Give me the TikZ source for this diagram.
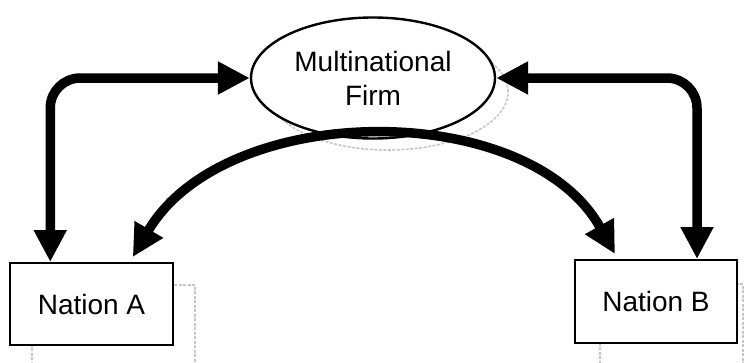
\documentclass[tikz,border=0pt]{standalone}
\usepackage{fontspec}
\setmainfont{Liberation Sans}
\usetikzlibrary{shapes.geometric,arrows.meta,calc}

\tikzset{
  lbl/.style={font=\fontsize{28}{34}\selectfont, align=center, inner sep=0pt},
  firmshape/.style={lbl, ellipse, draw, line width=2.4pt, fill=white,
    minimum width=244pt, minimum height=121pt},
  nationbox/.style={lbl, rectangle, draw, line width=2pt, fill=white,
    minimum width=163pt, minimum height=82pt},
  faint/.style={draw=gray!45, line width=1.6pt, dash pattern=on 3pt off 1.5pt},
  flow/.style={line width=9.5pt, rounded corners=30pt,
    {Triangle[length=32pt,width=31pt]}-{Triangle[length=32pt,width=31pt]}},
}

\begin{document}
\begin{tikzpicture}[x=1pt,y=-1pt]
\useasboundingbox (0,0) rectangle (748,362);

% faint drop shadows behind the shapes
\draw[faint] (388,92) ellipse [x radius=120pt, y radius=58pt];
\draw[faint] (32,285) rectangle (195,370);
\draw[faint] (600,284) rectangle (743,370);

% the three parties
\node[firmshape] (firm) at (373,78) {Multinational\\Firm};
\node[nationbox] (na) at (91.5,304) {Nation A};
\node[nationbox, minimum width=162pt, minimum height=83pt] (nb) at (656,301.5) {Nation B};

% attachment points on the top edges of the boxes
\coordinate (naL) at ($(na.north west)!0.25!(na.north east)$);
\coordinate (naR) at ($(na.north west)!0.75!(na.north east)+(0,-5)$);
\coordinate (nbL) at ($(nb.north west)!0.25!(nb.north east)+(0,-5)$);
\coordinate (nbR) at ($(nb.north west)!0.75!(nb.north east)$);

% firm <-> each nation
\draw[flow] (firm.west) -| (naL);
\draw[flow] (firm.east) -| (nbR);

% nation <-> nation, arching under the firm
\draw[flow] (naR) .. controls (225,100) and (528,98) .. (nbL);
\end{tikzpicture}
\end{document}
